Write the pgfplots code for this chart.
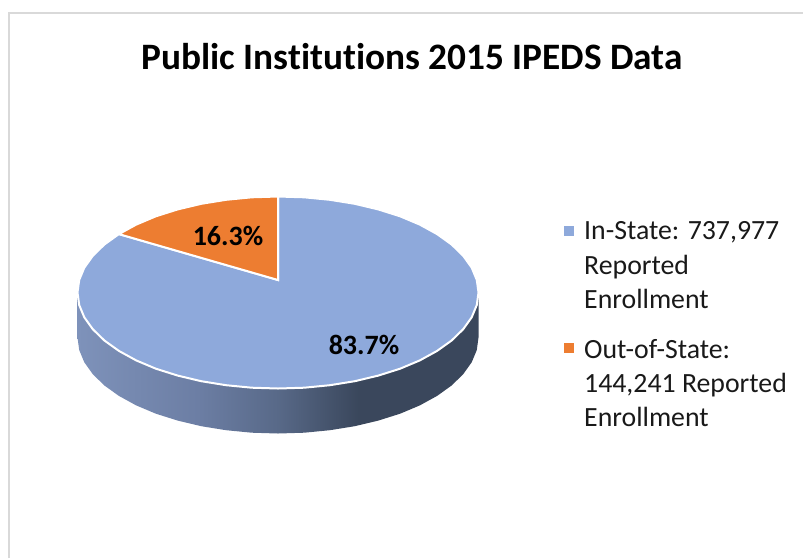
\documentclass[border=0pt]{standalone}
\usepackage{fontspec}
\setmainfont[Ligatures=CommonOff]{Carlito}
\usepackage{pgfplots}
\pgfplotsset{compat=1.18}
\definecolor{instate}{HTML}{8EA9DB}
\definecolor{outstate}{HTML}{ED7D31}
\definecolor{framegray}{HTML}{D9D9D9}
\definecolor{sideA}{RGB}{126,146,186}
\definecolor{sideB}{RGB}{108,126,164}
\definecolor{sideC}{RGB}{88,105,136}
\definecolor{sideD}{RGB}{58,71,92}
\pgfdeclarehorizontalshading{pieside}{100bp}{color(0bp)=(sideA); color(25bp)=(sideA); color(40bp)=(sideB); color(50bp)=(sideC); color(60bp)=(sideD); color(100bp)=(sideD)}
\tikzset{legtext/.style={anchor=base west, font=\fontsize{27.8}{27.8}\selectfont, inner sep=0pt, text=black!90}}
\begin{document}
\begin{tikzpicture}
\path[use as bounding box] (0,0) rectangle (803pt,558pt);
\begin{axis}[
  at={(0,0)}, anchor=south west,
  scale only axis, width=803pt, height=558pt,
  xmin=0, xmax=803, ymin=0, ymax=558, y dir=reverse,
  axis lines=none, clip=false,
]
% chart frame
\addplot[framegray, line width=2pt] coordinates {(9,558) (9,13) (803,13)};
% side wall of the pie
\addplot[draw=none, shading=pieside] coordinates {
 (77.5,292.5) (77.5,337.5) (79.2,350) (84.3,362.3) (92.8,374.2) (104.4,385.5) (118.9,395.9) (136.2,405.4)
 (155.9,413.7) (177.75,420.6) (201.3,426.2) (226.1,430.2) (251.8,432.7) (278,433.5) (304.2,432.7) (329.9,430.2)
 (354.7,426.2) (378.25,420.6) (400.1,413.7) (419.8,405.4) (437.1,395.9) (451.6,385.5) (463.2,374.2) (471.7,362.3)
 (476.8,350) (478.5,337.5) (478.5,292.5)} --cycle;
% In-State slice (83.7%)
\addplot[fill=instate, draw=white, line width=2pt] coordinates {
 (278,196.5) (304.2,197.3) (329.9,199.8) (354.7,203.8) (378.25,209.4) (400.1,216.3) (419.8,224.6) (437.1,234.1)
 (451.6,244.5) (463.2,255.8) (471.7,267.7) (476.8,280) (478.5,292.5) (476.8,305) (471.7,317.3) (463.2,329.2)
 (451.6,340.5) (437.1,350.9) (419.8,360.4) (400.1,368.7) (378.25,375.6) (354.7,381.2) (329.9,385.2) (304.2,387.7)
 (278,388.5) (251.8,387.7) (226.1,385.2) (201.3,381.2) (177.75,375.6) (155.9,368.7) (136.2,360.4) (118.9,350.9)
 (104.4,340.5) (92.8,329.2) (84.3,317.3) (79.2,305) (77.5,292.5) (79.2,280) (84.3,267.7) (92.8,255.8)
 (104.4,244.5) (118.9,234.1) (278,280)} --cycle;
% Out-of-State slice (16.3%)
\addplot[fill=outstate, draw=white, line width=2pt] coordinates {
 (278,196.5) (251.8,197.3) (226.1,199.8) (201.3,203.8) (177.75,209.4) (155.9,216.3) (136.2,224.6) (118.9,234.1) (278,280)} --cycle;
% legend keys
\addplot[fill=instate, draw=none] coordinates {(564,226) (574,226) (574,236) (564,236)} --cycle;
\addplot[fill=outstate, draw=none] coordinates {(564,343) (574,343) (574,353) (564,353)} --cycle;
% texts
\node[anchor=base, font=\fontsize{37.3}{37.3}\selectfont\bfseries, inner sep=0pt] at (axis cs:412,69) {Public Institutions 2015 IPEDS Data};
\node[anchor=base, font=\fontsize{28}{28}\selectfont\bfseries, inner sep=0pt] at (axis cs:228,245) {16.3\%};
\node[anchor=base, font=\fontsize{28}{28}\selectfont\bfseries, inner sep=0pt] at (axis cs:364,354) {83.7\%};
\node[legtext] at (axis cs:584,239) {In-State: 737,977};
\node[legtext] at (axis cs:584,274) {Reported};
\node[legtext] at (axis cs:584,308) {Enrollment};
\node[legtext] at (axis cs:584,358) {Out-of-State:};
\node[legtext] at (axis cs:584,392) {144,241 Reported};
\node[legtext] at (axis cs:584,426) {Enrollment};
\end{axis}
\end{tikzpicture}
\end{document}
